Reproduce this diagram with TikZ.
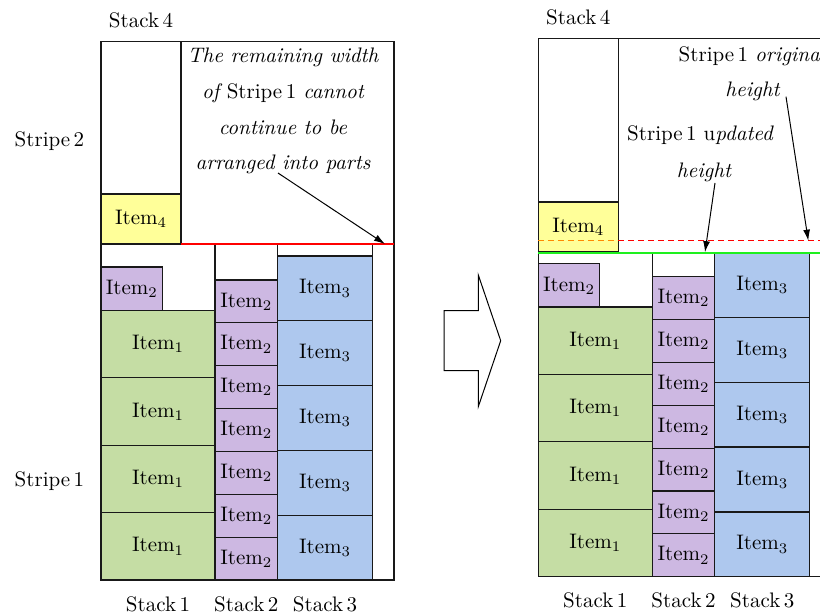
\documentclass[tikz,border=0pt]{standalone}
\usetikzlibrary{arrows.meta}
\definecolor{itemgreen}{HTML}{C5DDA4}
\definecolor{itempurple}{HTML}{CDB8E2}
\definecolor{itemblue}{HTML}{AEC8EE}
\definecolor{itemyellow}{HTML}{FFFF99}
\definecolor{linegreen}{HTML}{1EF01E}
\definecolor{dashorange}{HTML}{FF8A00}

% text is set at 10pt and enlarged, so it keeps the 10pt design shapes
\newcommand{\bt}[1]{\scalebox{2.1}{#1}}

% Stacks 1--3 of one packing panel; #1 is the prefix of the node names
\newcommand{\packstacks}[1]{%
  \foreach \k in {0,...,3}
    \node[cell, fill=itemgreen, minimum width=114pt, minimum height=67.4pt]
      (#1-a\k) at ({57},{33.7+67.4*\k}) {\bt{Item$_1$}};
  \node[cell, fill=itempurple, minimum width=61.5pt, minimum height=43.3pt]
      (#1-b0) at (30.75,291.25) {\bt{Item$_2$}};
  \foreach \k in {1,...,7}
    \node[cell, fill=itempurple, minimum width=62.5pt, minimum height=42.86pt]
      (#1-b\k) at ({145.25},{42.86*\k-21.43}) {\bt{Item$_2$}};
  \foreach \k in {1,...,5}
    \node[cell, fill=itemblue, minimum width=95pt, minimum height=64.8pt]
      (#1-c\k) at ({224},{64.8*\k-32.4}) {\bt{Item$_3$}};
  \node[lbl] (#1-s1) at (57,-31) {\bt{Stack\,1}};
  \node[lbl] (#1-s2) at (145.25,-31) {\bt{Stack\,2}};
  \node[lbl] (#1-s3) at (224,-31) {\bt{Stack\,3}};
  \node[lbl] (#1-s4) at (40,552) {\bt{Stack\,4}};
}

\begin{document}
\begin{tikzpicture}[x=1pt,y=1pt,
  font=\fontsize{10}{12}\selectfont,
  frame/.style={draw=black!90, line width=1.2pt},
  cell/.style={draw=black!90, line width=1.2pt, inner sep=0pt, outer sep=0pt},
  lbl/.style={anchor=base, inner sep=0pt},
  note/.style={anchor=base, inner sep=0pt, font=\fontsize{10}{12}\selectfont\itshape},
  pointer/.style={-{Latex[length=11pt,width=7pt]}, line width=1pt},
]
\useasboundingbox (0,0) rectangle (820,614);
\clip (0,0) rectangle (820,614);

% ---------- before: stripe 1 keeps its original height ----------
\node[lbl] (stripetwo) at (49.5,614-146.7) {\bt{Stripe\,2}};
\node[lbl] (stripeone) at (49.5,614-486.7) {\bt{Stripe\,1}};

\begin{scope}[shift={(101,34)}]
  \draw[frame] (0,0) rectangle (293,538.5);
  \draw[frame] (80,336) -- (80,538.5);
  \draw[frame] (114,0) -- (114,336);
  \draw[frame] (176.5,0) -- (176.5,336);
  \draw[frame] (271.5,0) -- (271.5,336);
  \node[cell, fill=itemyellow, minimum width=80pt, minimum height=50pt]
    (l-d) at (40,361) {\bt{Item$_4$}};
  \packstacks{l}
  \draw[red, line width=1.1pt] (80,336) -- (293,336);
  \node[note] (l-n1) at (182,517) {\bt{The remaining width}};
  \node[note] (l-n2) at (182,481) {\bt{of \upshape Stripe\,1 \itshape cannot}};
  \node[note] (l-n3) at (182,445.5) {\bt{continue to be}};
  \node[note] (l-n4) at (182,410) {\bt{arranged into parts}};
  \coordinate (l-tip) at (284,336);
  \coordinate (l-tail) at (177,407);
  \draw[pointer] (l-tail) -- (l-tip);
\end{scope}

% ---------- the hollow arrow between the two panels ----------
\draw[line width=1pt, line join=miter]
  (444,614-310.7) -- (478.3,614-310.7) -- (478.3,614-275) -- (500.7,614-340.7)
  -- (478.3,614-406.7) -- (478.3,614-370.7) -- (444,614-370.7) -- cycle;

% ---------- after: stripe 1 lowered to its tallest stack ----------
\begin{scope}[shift={(538.3,37.3)}]
  \draw[frame] (0,0) rectangle (293,538.5);
  \draw[frame] (80,324) -- (80,538.5);
  \draw[frame] (114,0) -- (114,324);
  \draw[frame] (176.5,0) -- (176.5,324);
  \draw[frame] (271.5,0) -- (271.5,324);
  \node[cell, fill=itemyellow, minimum width=80pt, minimum height=50pt]
    (r-d) at (40,349.6) {\bt{Item$_4$}};
  \packstacks{r}
  \draw[linegreen, line width=1.5pt] (0,323.6) -- (293,323.6);
  \draw[dashorange, dash pattern=on 6pt off 4pt, line width=1.1pt] (0,336) -- (80,336);
  \draw[red, dash pattern=on 6pt off 4pt, line width=1.1pt] (80,336) -- (293,336);
  \node[note] (r-o1) at (213.7,515) {\bt{\upshape Stripe\,1 \itshape original}};
  \node[note] (r-o2) at (214.2,479.7) {\bt{height}};
  \node[note] (r-u1) at (161.7,435.7) {\bt{\upshape Stripe\,1 u\itshape pdated}};
  \node[note] (r-u2) at (165.7,399.4) {\bt{height}};
  \coordinate (r-otip) at (270,336);
  \coordinate (r-utip) at (166.7,324.5);
  \coordinate (r-otail) at (247.7,480);
  \coordinate (r-utail) at (176.7,393.7);
  \draw[pointer] (r-otail) -- (r-otip);
  \draw[pointer] (r-utail) -- (r-utip);
\end{scope}
\end{tikzpicture}
\end{document}
